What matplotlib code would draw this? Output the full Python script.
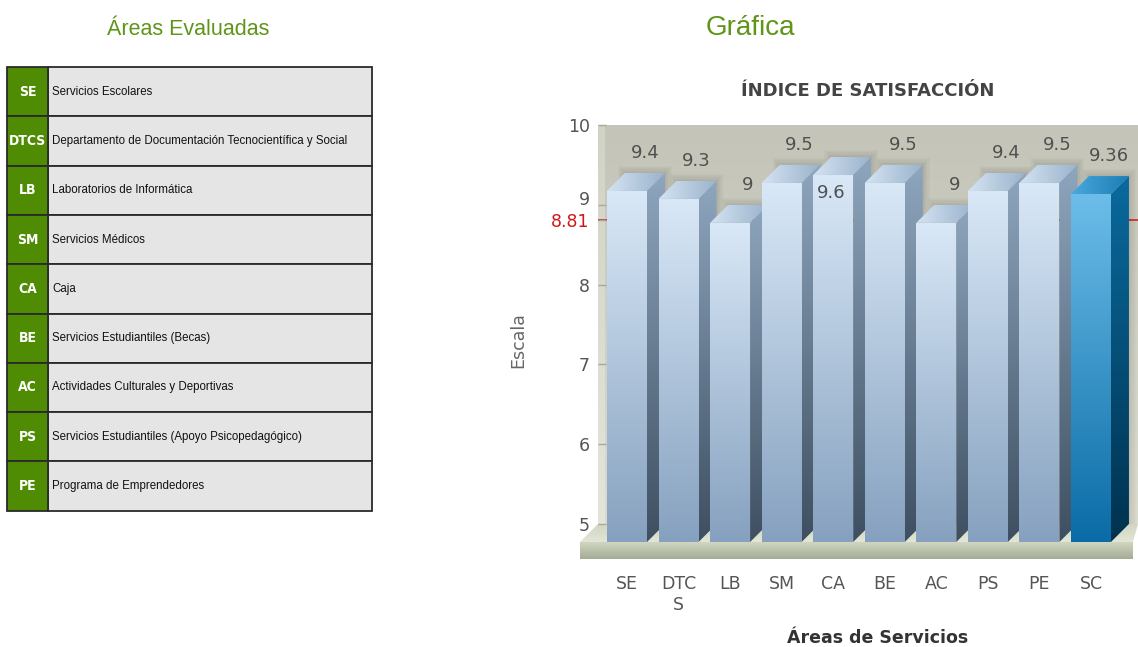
import numpy as np
import matplotlib
matplotlib.use("Agg")
import matplotlib.pyplot as plt
from matplotlib.patches import Polygon, Rectangle
from matplotlib.colors import LinearSegmentedColormap
from matplotlib import font_manager

# ---------------- data ----------------
area_codes = ["SE", "DTCS", "LB", "SM", "CA", "BE", "AC", "PS", "PE"]
area_names = [
    "Servicios Escolares",
    "Departamento de Documentación Tecnocientífica y Social",
    "Laboratorios de Informática",
    "Servicios Médicos",
    "Caja",
    "Servicios Estudiantiles (Becas)",
    "Actividades Culturales y Deportivas",
    "Servicios Estudiantiles (Apoyo Psicopedagógico)",
    "Programa de Emprendedores",
]
bar_labels = ["SE", "DTC\nS", "LB", "SM", "CA", "BE", "AC", "PS", "PE", "SC"]
bar_values = [9.4, 9.3, 9.0, 9.5, 9.6, 9.5, 9.0, 9.4, 9.5, 9.36]
value_texts = ["9.4", "9.3", "9", "9.5", "9.6", "9.5", "9", "9.4", "9.5", "9.36"]
trend_value = 8.81
trend_text = "8.81"
y_ticks = [5, 6, 7, 8, 9, 10]

# ---------------- style / layout ----------------
W, H, DPI = 1138, 647, 100
GREEN = "#5f961a"
highlight_index = len(bar_values) - 1
inside_label_index = 4

avail = {f.name for f in font_manager.fontManager.ttflist}
if "Liberation Sans Narrow" in avail:
    code_font = dict(family="Liberation Sans Narrow", fontsize=13, fontweight="bold")
else:
    code_font = dict(family="DejaVu Sans", fontsize=10, fontweight="bold", fontstretch="condensed")
sans = "Liberation Sans" if "Liberation Sans" in avail else "DejaVu Sans"

plt.rcParams["font.family"] = ["DejaVu Sans"]

fig = plt.figure(figsize=(W / DPI, H / DPI), dpi=DPI)
fig.patch.set_facecolor("white")


def fig_rect(x0, y0, x1, y1):
    return [x0 / W, 1 - y1 / H, (x1 - x0) / W, (y1 - y0) / H]


# ---------------- left panel: table ----------------
axL = fig.add_axes([0, 0, 1, 1])
axL.set_xlim(0, W)
axL.set_ylim(H, 0)
axL.axis("off")

axL.text(188, 35, "Áreas Evaluadas", family=sans, fontsize=15.5, color=GREEN,
         ha="center", va="baseline")
axL.text(750, 35, "Gráfica", family=sans, fontsize=20, color=GREEN,
         ha="center", va="baseline")

tbl_x0, tbl_x1, tbl_y0, row_h, code_w = 7, 372, 67, 49.3, 41
for k, (code, name) in enumerate(zip(area_codes, area_names)):
    y0 = tbl_y0 + k * row_h
    axL.add_patch(Rectangle((tbl_x0 + code_w, y0), tbl_x1 - tbl_x0 - code_w, row_h,
                            facecolor="#e5e5e5", edgecolor="#2a2a2a", lw=1.3))
    axL.add_patch(Rectangle((tbl_x0, y0), code_w, row_h,
                            facecolor="#4f8b03", edgecolor="#2a2a2a", lw=1.3))
    axL.text(tbl_x0 + code_w / 2, y0 + row_h / 2, code, color="white",
             ha="center", va="center", **code_font)
    axL.text(tbl_x0 + code_w + 4, y0 + row_h / 2, name, family=sans, fontsize=8.3,
             color="#111111", ha="left", va="center")

# ---------------- chart ----------------
PX_X = 51.55          # pixels per category
PX_Y = 79.8           # pixels per unit
X0_PX = 627           # pixel centre of first bar front
ax_left_px, ax_right_px, ax_top_px = 598, 1138, 125
ymin, ymax = 4.5, 10
ax_bot_px = ax_top_px + (ymax - ymin) * PX_Y
ax = fig.add_axes(fig_rect(ax_left_px, ax_top_px, ax_right_px, ax_bot_px))
ax.set_facecolor("none")
x_left = (ax_left_px - X0_PX) / PX_X
x_right = (ax_right_px - X0_PX) / PX_X

DX = 18 / PX_X
DY = 18 / PX_Y
BW = 40 / PX_X
BASE = 5


def grad_poly(verts, c0, c1, horizontal=False, z=1.0):
    poly = Polygon(verts, closed=True, transform=ax.transData)
    xs = [v[0] for v in verts]
    ys = [v[1] for v in verts]
    cmap = LinearSegmentedColormap.from_list("g", [c0, c1])
    if horizontal:
        arr = np.linspace(0, 1, 128)[None, :]
    else:
        arr = np.linspace(0, 1, 128)[:, None]
    im = ax.imshow(arr, cmap=cmap, extent=[min(xs), max(xs), min(ys), max(ys)],
                   origin="lower", aspect="auto", interpolation="bilinear", zorder=z)
    im.set_clip_path(poly)
    im.set_clip_box(fig.bbox)
    return im


# wall
grad_poly([(x_left, BASE), (x_right, BASE), (x_right, ymax), (x_left, ymax)],
          "#dadbcf", "#c4c5b8", z=0.1)
grad_poly([(x_left, BASE), (x_left + 7 / PX_X, BASE), (x_left + 7 / PX_X, ymax), (x_left, ymax)],
          "#e4e5da", "#d2d3c7", z=0.15)

# floor
fx_l = x_left - DX
fx_r = x_right - 5 / PX_X
grad_poly([(x_left, BASE), (x_right, BASE), (fx_r, BASE - DY), (fx_l, BASE - DY)],
          "#e2e6d6", "#d0d5c1", z=0.2)
floor_h = 17 / PX_Y
grad_poly([(fx_l, BASE - DY - floor_h), (fx_r, BASE - DY - floor_h), (fx_r, BASE - DY), (fx_l, BASE - DY)],
          "#a4ac95", "#d0d6c0", z=0.2)

# trend line
ax.plot([x_left, x_right], [trend_value, trend_value], color="#d01818", lw=1.1,
        zorder=0.6, solid_capstyle="butt")

# bars
normal = dict(front=("#86a1bf", "#d9e8f7"), side=("#3e4f61", "#8ea6be"), top=("#d4e3f2", "#9ab3cc"))
hilite = dict(front=("#0a6ca6", "#6cbde9"), side=("#00324f", "#0a6a9e"), top=("#4aa8dc", "#1a7db6"))
for i, v in enumerate(bar_values):
    st = hilite if i == highlight_index else normal
    z = 3 + 0.1 * i
    xl, xr = i - BW / 2, i + BW / 2
    # soft shadow on wall
    for k in range(6):
        e = (1 + 1.2 * k) / PX_X
        ey = (1 + 1.2 * k) / PX_Y
        ax.add_patch(Polygon([(xl + DX - e, BASE), (xr + DX + e, BASE), (xr + DX + e, v + ey),
                              (xl + DX - e, v + ey)], closed=True, facecolor="#303020",
                             edgecolor="none", alpha=0.022, zorder=1 + 0.01 * i))
    grad_poly([(xr, BASE - DY), (xr + DX, BASE), (xr + DX, v), (xr, v - DY)],
              st["side"][0], st["side"][1], z=z)
    grad_poly([(xl, v - DY), (xr, v - DY), (xr + DX, v), (xl + DX, v)],
              st["top"][0], st["top"][1], horizontal=True, z=z + 0.01)
    grad_poly([(xl, BASE - DY), (xr, BASE - DY), (xr, v - DY), (xl, v - DY)],
              st["front"][0], st["front"][1], z=z + 0.02)
    if i == inside_label_index:
        ax.text(i - 0.03, v - 0.446, value_texts[i], ha="center", va="center",
                fontsize=13, color="#505050", zorder=10)
    else:
        ax.text(i + DX, v + 0.25, value_texts[i], ha="center", va="center",
                fontsize=13, color="#505050", zorder=10)

# axes, ticks
ax.set_xlim(x_left, x_right)
ax.set_ylim(ymin, ymax)
for s in ax.spines.values():
    s.set_visible(False)

ticks = sorted(y_ticks + [trend_value])
labels = [trend_text if t == trend_value else str(t) for t in ticks]
ax.set_yticks(ticks, labels)
ax.tick_params(axis="y", direction="in", length=6, width=1, color="#a8a89a",
               labelsize=12.5, labelcolor="#555555", pad=6)
ti = ticks.index(trend_value)
ax.get_yticklabels()[ti].set_color("#d01818")
ax.yaxis.get_major_ticks()[ti].tick1line.set_color("#d01818")
# nudge the "9" label up slightly, as in the reference, to clear "8.81"
for lab, t in zip(ax.get_yticklabels(), ticks):
    if t == 9:
        lab.set_va("baseline")

ax.set_xticks(range(len(bar_labels)), bar_labels)
ax.tick_params(axis="x", length=0, labelsize=12.5, labelcolor="#555555", pad=8)

ax.set_ylabel("Escala", fontsize=12.5, color="#666666")
ax.yaxis.set_label_coords((527 - ax_left_px) / (ax_right_px - ax_left_px), 0.511)
ax.set_xlabel("Áreas de Servicios", fontsize=12.5, fontweight="bold", color="#333333")
ax.xaxis.set_label_coords((878 - ax_left_px) / (ax_right_px - ax_left_px),
                          (ax_bot_px - 629) / (ax_bot_px - ax_top_px))
ax.set_title("ÍNDICE DE SATISFACCIÓN", fontsize=13, fontweight="bold", color="#444444",
             y=(ax_bot_px - 96) / (ax_bot_px - ax_top_px), pad=0)

fig.savefig("out.png", dpi=DPI)
